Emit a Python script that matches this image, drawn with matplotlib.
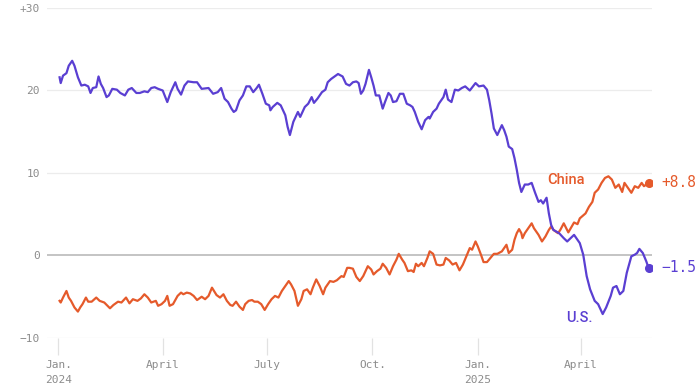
import matplotlib
matplotlib.use("Agg")
import matplotlib.pyplot as plt
import pandas as pd

# days since 2024-01-01
us_days = [1, 2, 4, 7, 9, 12, 14, 17, 20, 23, 26, 28, 30, 33, 35, 37, 39, 42, 44, 47,
           51, 54, 58, 61, 64, 68, 71, 75, 78, 81, 84, 87, 91, 95, 98, 102, 104, 107, 110, 113,
           118, 121, 125, 131, 135, 139, 142, 145, 148, 151, 153, 155, 158, 161, 164, 167, 170, 173, 175, 178,
           181, 184, 185, 187, 191, 194, 198, 200, 202, 205, 207, 209, 211, 215, 218, 221, 223, 226, 230, 233,
           235, 238, 241, 244, 248, 251, 254, 257, 260, 262, 264, 266, 268, 271, 273, 275, 277, 280, 283, 285,
           288, 290, 292, 295, 298, 301, 304, 307, 309, 311, 314, 317, 320, 323, 324, 327, 330, 332, 334, 336,
           338, 340, 343, 346, 349, 352, 355, 359, 364, 367, 371, 374, 376, 378, 380, 383, 385, 387, 389, 391,
           393, 396, 398, 400, 402, 404, 407, 410, 413, 416, 419, 421, 423, 426, 428, 430, 432, 437, 441, 444,
           447, 450, 453, 455, 458, 461, 464, 468, 471, 475, 478, 482, 484, 487, 490, 493, 496, 500, 503, 505,
           507, 510, 513, 515]
us_vals = [21.6, 20.9, 21.8, 22.1, 23.0, 23.6, 23.0, 21.6, 20.6, 20.7, 20.5, 19.7, 20.3, 20.4, 21.7, 20.8, 20.3, 19.2, 19.4, 20.2,
           20.1, 19.7, 19.4, 20.1, 20.3, 19.7, 19.7, 19.9, 19.8, 20.3, 20.4, 20.2, 20.0, 18.6, 19.8, 21.0, 20.2, 19.5, 20.6, 21.1,
           21.0, 21.0, 20.2, 20.3, 19.6, 19.8, 20.3, 19.0, 18.6, 17.8, 17.4, 17.6, 18.8, 19.4, 20.5, 20.5, 19.8, 20.3, 20.7, 19.6,
           18.4, 18.2, 17.6, 18.0, 18.5, 18.2, 17.0, 15.6, 14.6, 16.2, 16.8, 17.4, 16.8, 18.0, 18.4, 19.2, 18.5, 19.0, 19.8, 20.1,
           21.0, 21.4, 21.7, 22.0, 21.7, 20.8, 20.6, 21.0, 21.1, 20.9, 19.6, 20.0, 20.8, 22.5, 21.6, 20.6, 19.4, 19.4, 17.8, 18.6,
           19.7, 19.4, 18.6, 18.7, 19.6, 19.6, 18.4, 18.2, 18.0, 17.4, 16.2, 15.3, 16.4, 16.8, 16.6, 17.4, 17.8, 18.4, 18.8, 19.2,
           20.1, 18.9, 18.6, 20.1, 20.0, 20.3, 20.5, 20.0, 20.9, 20.5, 20.6, 20.1, 18.8, 17.2, 15.4, 14.6, 15.2, 15.8, 15.2, 14.4,
           13.2, 12.9, 11.8, 10.4, 8.8, 7.7, 8.6, 8.6, 8.8, 7.6, 6.5, 6.7, 6.3, 7.0, 5.1, 3.7, 3.1, 2.7, 2.1, 1.7,
           2.1, 2.5, 1.9, 1.5, 0.1, -2.5, -4.1, -5.5, -5.9, -7.1, -6.3, -4.9, -3.9, -3.7, -4.7, -4.3, -2.1, -0.1, 0.1, 0.3,
           0.8, 0.3, -0.7, -1.5]

cn_days = [1, 2, 4, 7, 9, 11, 14, 17, 19, 21, 24, 26, 29, 33, 36, 40, 45, 48, 52, 55,
           59, 62, 65, 69, 72, 75, 78, 81, 85, 87, 90, 93, 95, 97, 100, 104, 107, 109, 112, 115,
           118, 121, 125, 128, 131, 134, 138, 141, 144, 147, 150, 152, 155, 158, 161, 163, 166, 169, 171, 174,
           177, 180, 183, 186, 189, 192, 195, 198, 201, 203, 206, 209, 212, 214, 217, 220, 222, 225, 228, 231,
           233, 237, 240, 243, 247, 249, 252, 254, 257, 260, 263, 266, 270, 273, 275, 278, 281, 283, 286, 289,
           292, 295, 297, 300, 302, 305, 308, 310, 312, 314, 317, 319, 322, 324, 327, 330, 333, 336, 338, 341,
           344, 347, 350, 353, 356, 359, 361, 364, 366, 369, 371, 374, 377, 380, 383, 387, 391, 393, 396, 398,
           400, 402, 404, 405, 407, 410, 413, 415, 419, 422, 425, 428, 430, 432, 436, 438, 441, 445, 450, 453,
           455, 460, 463, 466, 468, 471, 474, 477, 480, 483, 486, 489, 492, 494, 497, 500, 503, 506, 509, 511,
           515]
cn_vals = [-5.5, -5.7, -5.1, -4.3, -5.1, -5.5, -6.3, -6.8, -6.3, -5.9, -5.1, -5.6, -5.6, -5.1, -5.5, -5.7, -6.4, -6.0, -5.6, -5.7,
           -5.1, -5.8, -5.3, -5.5, -5.2, -4.7, -5.1, -5.7, -5.5, -6.1, -5.9, -5.5, -4.9, -6.1, -5.9, -4.9, -4.5, -4.7, -4.5, -4.6,
           -4.9, -5.4, -5.0, -5.3, -4.9, -3.9, -4.8, -5.1, -4.7, -5.5, -6.0, -6.1, -5.6, -6.2, -6.6, -5.9, -5.5, -5.4, -5.6, -5.6,
           -5.9, -6.6, -5.9, -5.3, -4.9, -5.1, -4.3, -3.7, -3.1, -3.5, -4.3, -6.1, -5.3, -4.3, -4.1, -4.7, -3.9, -2.9, -3.7, -4.7,
           -3.9, -3.1, -3.2, -3.0, -2.5, -2.6, -1.5, -1.5, -1.6, -2.6, -3.1, -2.5, -1.3, -1.7, -2.3, -1.9, -1.6, -1.0, -1.5, -2.3,
           -1.3, -0.5, 0.2, -0.5, -0.9, -1.9, -1.8, -2.0, -1.0, -1.3, -0.9, -1.3, -0.3, 0.5, 0.2, -1.1, -1.2, -1.1, -0.3, -0.6,
           -1.1, -0.9, -1.8, -1.1, -0.1, 0.9, 0.7, 1.7, 1.1, 0.0, -0.8, -0.8, -0.3, 0.2, 0.2, 0.5, 1.3, 0.3, 0.7, 1.9,
           2.7, 3.2, 2.7, 2.1, 2.7, 3.3, 3.9, 3.3, 2.5, 1.7, 2.3, 3.1, 3.5, 3.1, 2.7, 3.1, 3.9, 2.8, 4.0, 3.8,
           4.5, 5.1, 5.9, 6.5, 7.6, 8.0, 8.8, 9.4, 9.6, 9.2, 8.2, 8.6, 7.7, 8.8, 8.2, 7.6, 8.4, 8.2, 8.8, 8.4,
           8.8]

y_ticks = [-10, 0, 10, 20, 30]
y_labels = ["\u221210", "0", "10", "20", "+30"]
x_ticks = ["2024-01-01", "2024-04-01", "2024-07-01", "2024-10-01", "2025-01-01", "2025-04-01"]
x_labels = ["Jan.\n2024", "April", "July", "Oct.", "Jan.\n2025", "April"]

US_COLOR = "#5a3fd2"
CN_COLOR = "#e55a2b"
GRAY = "#8c8c8c"

start = pd.Timestamp("2024-01-01")
us_x = start + pd.to_timedelta(us_days, unit="D")
cn_x = start + pd.to_timedelta(cn_days, unit="D")

fig = plt.figure(figsize=(7, 3.92), dpi=100)
ax = fig.add_axes([0.0671, 0.1378, 0.8643, 0.8418])

ax.plot(cn_x, cn_vals, color=CN_COLOR, lw=1.6, solid_joinstyle="round", zorder=3)
ax.plot(us_x, us_vals, color=US_COLOR, lw=1.6, solid_joinstyle="round", zorder=4)
ax.plot(cn_x[-1], cn_vals[-1], "o", color=CN_COLOR, ms=5.5, zorder=5)
ax.plot(us_x[-1], us_vals[-1], "o", color=US_COLOR, ms=5.5, zorder=5)

ax.set_ylim(-10, 30)
ax.set_xlim(start - pd.Timedelta(days=10), start + pd.Timedelta(days=518))

for t in y_ticks:
    if t == 0:
        ax.axhline(t, color="#c4c4c4", lw=1.4, zorder=1)
    else:
        ax.axhline(t, color="#ececec", lw=0.9, zorder=1)

ax.set_yticks(y_ticks)
ax.set_yticklabels(y_labels)
ax.set_xticks(pd.to_datetime(x_ticks))
ax.set_xticklabels(x_labels, linespacing=1.6)
ax.tick_params(axis="y", length=0, pad=5, labelsize=8, labelcolor=GRAY)
ax.tick_params(axis="x", length=12, width=0.9, color="#e2e2e2", pad=4,
               labelsize=8, labelcolor=GRAY)
for lab in ax.get_xticklabels() + ax.get_yticklabels():
    lab.set_family("DejaVu Sans Mono")

for s in ax.spines.values():
    s.set_visible(False)

# end labels
ax.annotate(f"+{cn_vals[-1]:.1f}", (cn_x[-1], cn_vals[-1]), xytext=(9, 0),
            textcoords="offset points", va="center", ha="left",
            color=CN_COLOR, fontsize=10.5, family="DejaVu Sans Mono", annotation_clip=False)
ax.annotate(f"\u2212{abs(us_vals[-1]):.1f}", (us_x[-1], us_vals[-1]), xytext=(9, 0),
            textcoords="offset points", va="center", ha="left",
            color=US_COLOR, fontsize=10.5, family="DejaVu Sans Mono", annotation_clip=False)

# series names
ax.text(pd.Timestamp("2025-03-03"), 9.2, "China", color=CN_COLOR, fontsize=10.5,
        family="Roboto", fontweight="medium", ha="left", va="center")
ax.text(pd.Timestamp("2025-03-19"), -7.6, "U.S.", color=US_COLOR, fontsize=10.5,
        family="Roboto", fontweight="medium", ha="left", va="center")

fig.savefig("out.png", dpi=100, facecolor="white")
